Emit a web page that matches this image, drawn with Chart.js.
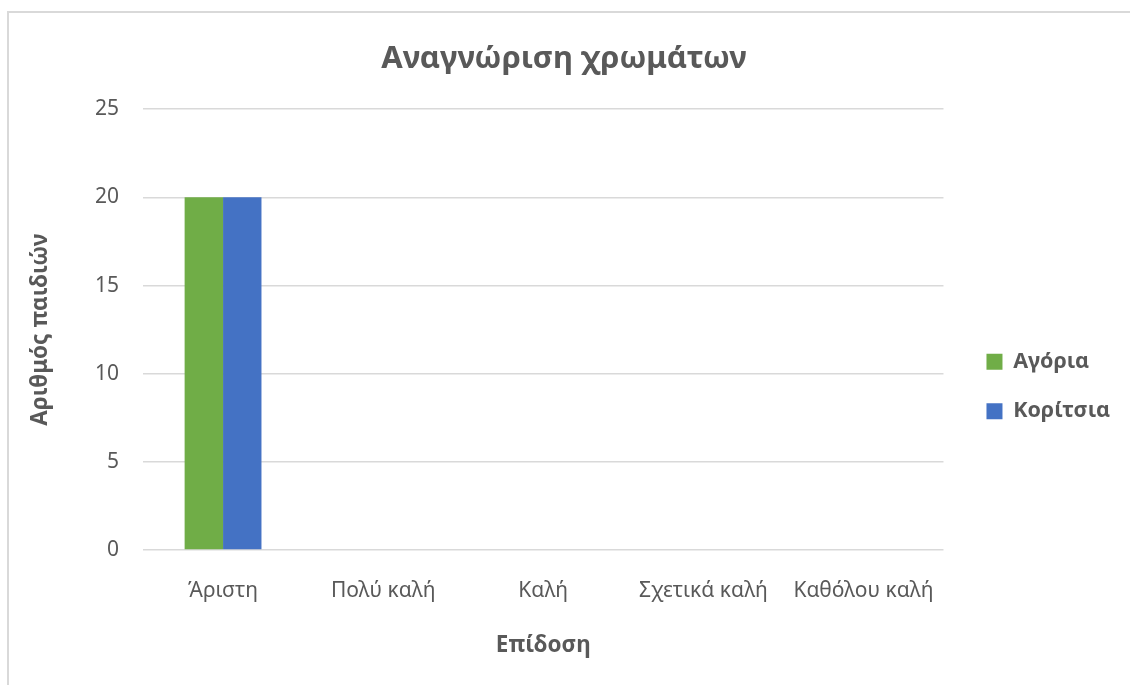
<!DOCTYPE html>
<html>
<head>
<meta charset="utf-8">
<script src="https://cdn.jsdelivr.net/npm/chart.js@4"></script>
<style>
    body { margin: 0; background: #fff; overflow: hidden; }
    #frame {
        position: absolute; left: 7px; top: 11px;
        width: 1200px; height: 700px;
        border: 2px solid #d9d9d9;
    }
    #wrap { position: absolute; left: 0; top: 0; width: 1130px; height: 685px; }
</style>
</head>
<body>
<div id="frame"></div>
<div id="wrap"><canvas id="chart"></canvas></div>
<script>

const categories = ["Άριστη", "Πολύ καλή", "Καλή", "Σχετικά καλή", "Καθόλου καλή"];
const boys = [20, 0, 0, 0, 0];
const girls = [20, 0, 0, 0, 0];
const yTicks = [0, 5, 10, 15, 20, 25];

const textColor = "#595959";
const fontFamily = "'Noto Sans', 'Open Sans', sans-serif";

// nudge the legend block down/right so it sits beside the middle of the plot
const legendShift = {
    id: "legendShift",
    afterLayout(chart) {
        const lg = chart.legend;
        if (!lg) return;
        lg.top += 55;
        lg.bottom += 55;
        lg.left += 15;
        lg.right += 15;
    }
};

const ctx = document.getElementById("chart");

new Chart(ctx, {
    type: "bar",
    data: {
        labels: categories,
        datasets: [
            { label: "Αγόρια", data: boys, backgroundColor: "#70AD47" },
            { label: "Κορίτσια", data: girls, backgroundColor: "#4472C4" }
        ]
    },
    plugins: [legendShift],
    options: {
        responsive: true,
        maintainAspectRatio: false,
        animation: false,
        categoryPercentage: 0.48,
        barPercentage: 1,
        layout: { padding: { left: 23, right: 25, bottom: 22 } },
        plugins: {
            title: {
                display: true,
                text: "Αναγνώριση χρωμάτων",
                color: textColor,
                font: { family: fontFamily, size: 31, weight: "bold" },
                padding: { top: 41, bottom: 31 }
            },
            legend: {
                position: "right",
                labels: {
                    color: textColor,
                    font: { family: fontFamily, size: 21.5, weight: "bold" },
                    boxWidth: 16,
                    boxHeight: 16,
                    padding: 28
                }
            },
            tooltip: { enabled: false }
        },
        scales: {
            x: {
                afterFit: axis => { axis.height = 113; },
                grid: { display: false },
                border: { display: false },
                ticks: {
                    color: textColor,
                    font: { family: fontFamily, size: 21 },
                    padding: 20
                },
                title: {
                    display: true,
                    text: "Επίδοση",
                    color: textColor,
                    font: { family: fontFamily, size: 22.5, weight: "bold" },
                    padding: { top: 10, bottom: 4 }
                }
            },
            y: {
                min: 0,
                max: 25,
                afterBuildTicks: axis => {
                    axis.ticks = yTicks.map(v => ({ value: v }));
                },
                afterFit: axis => { axis.width = 120; },
                grid: { color: "#d9d9d9", lineWidth: 1.5, drawTicks: false },
                border: { display: false },
                ticks: {
                    color: textColor,
                    font: { family: fontFamily, size: 21 },
                    padding: 24
                },
                title: {
                    display: true,
                    text: "Αριθμός παιδιών",
                    color: textColor,
                    font: { family: fontFamily, size: 22.5, weight: "bold" },
                    padding: { bottom: 10 }
                }
            }
        }
    }
});

</script>
</body>
</html>
